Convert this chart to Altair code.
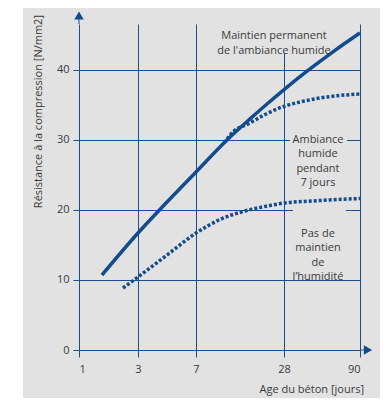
import altair as alt
import pandas as pd

# ---- data ----
age_ticks = [1, 3, 7, 28, 90]
strength_ticks = [0, 10, 20, 30, 40]

perm_days = [1.78, 3, 5.0, 7, 14.4, 19.89, 23.94, 28.8, 47.58, 68.79, 90]
perm_vals = [10.71, 16.71, 21.14, 25.43, 30.0, 33.01, 35.14, 37.31, 39.93, 42.7, 45.29]

seven_days = [13.68, 15.83, 19.89, 23.94, 28.8, 41.05, 57.37, 73.68, 90]
seven_vals = [29.57, 31.14, 32.43, 33.79, 34.86, 35.43, 36.0, 36.36, 36.57]

none_days = [2.49, 3, 5.21, 7, 12.73, 18.69, 24.66, 28, 51.7, 71.2, 90]
none_vals = [8.86, 10.43, 13.9, 16.71, 18.64, 19.86, 20.64, 21.0, 21.29, 21.5, 21.64]

labels = ["Maintien permanent\nde l'ambiance humide",
          "Ambiance\nhumide\npendant\n7 jours",
          "Pas de\nmaintien\nde\nl\u2019humidité"]
label_days = [25.6, 55.7, 55.7]
label_vals = [44.8, 30.07, 16.6]

box_x1 = [11.5, 32.9, 35.3]
box_x2 = [69.6, 79.4, 78.6]
box_y1 = [47.1, 34.3, 20.7]
box_y2 = [42.4, 26.0, 12.6]

y_title = "Résistance à la compression [N/mm2]"
x_title = "Age du béton [jours]"

BLUE = "#134c8c"
GRID = "#1d4f8e"
BG = "#e2e2e2"
TXT = "#3a3a3a"
FONT = "Open Sans"

xscale = alt.Scale(type="linear", domain=age_ticks, range=[0, 59, 117, 205, 281], nice=False, zero=False)
yscale = alt.Scale(domain=[0, 46.57], nice=False, zero=False)

xaxis = alt.Axis(values=age_ticks, title=None, grid=True, gridColor=GRID, gridWidth=1, gridOpacity=1,
                 domain=False, ticks=True, tickColor=GRID, tickSize=7, tickWidth=1,
                 labelFont=FONT, labelFontSize=11, labelColor=TXT, labelPadding=6, format="d")
yaxis = alt.Axis(values=strength_ticks, title=None, grid=True, gridColor=GRID, gridWidth=1, gridOpacity=1,
                 domain=False, ticks=True, tickColor=GRID, tickSize=6, tickWidth=1,
                 labelFont=FONT, labelFontSize=11, labelColor=TXT, labelPadding=4, format="d")


def X():
    return alt.X("age:Q", scale=xscale, axis=xaxis)


def Y():
    return alt.Y("val:Q", scale=yscale, axis=yaxis)


perm = pd.DataFrame({"age": perm_days, "val": perm_vals})
seven = pd.DataFrame({"age": seven_days, "val": seven_vals})
none_ = pd.DataFrame({"age": none_days, "val": none_vals})
lab = pd.DataFrame({"age": label_days, "val": label_vals, "txt": labels})
boxes = pd.DataFrame({"age": box_x1, "age2": box_x2, "val": box_y1, "val2": box_y2})
one = pd.DataFrame({"k": [0]})

strip = alt.Chart(one).mark_rect(color="white").encode(
    x=alt.value(-80), x2=alt.value(-56), y=alt.value(-40), y2=alt.value(420))

box_layer = alt.Chart(boxes).mark_rect(color=BG).encode(
    x=X(), x2="age2:Q", y=Y(), y2="val2:Q")

perm_line = alt.Chart(perm).mark_line(color=BLUE, strokeWidth=3.5, interpolate="monotone").encode(
    x=X(), y=Y())
seven_line = alt.Chart(seven).mark_line(color=BLUE, strokeWidth=3.5, strokeDash=[3, 2], interpolate="monotone").encode(
    x=X(), y=Y())
none_line = alt.Chart(none_).mark_line(color=BLUE, strokeWidth=3.5, strokeDash=[3, 2], interpolate="monotone").encode(
    x=X(), y=Y())

text_layer = alt.Chart(lab).mark_text(font=FONT, fontSize=11, color=TXT, lineBreak="\n", lineHeight=14.5,
                                      align="center", baseline="middle").encode(
    x=X(), y=Y(), text="txt:N")

yaxis_line = alt.Chart(one).mark_rule(color=GRID, strokeWidth=1).encode(
    x=alt.value(0), y=alt.value(-8), y2=alt.value(0))
xaxis_line = alt.Chart(one).mark_rule(color=GRID, strokeWidth=1).encode(
    x=alt.value(281), x2=alt.value(289), y=alt.value(326))
up_arrow = alt.Chart(one).mark_point(shape="triangle-up", filled=True, size=90, color=BLUE, opacity=1).encode(
    x=alt.value(0), y=alt.value(-8.5))
right_arrow = alt.Chart(one).mark_point(shape="triangle-right", filled=True, size=90, color=BLUE, opacity=1).encode(
    x=alt.value(289), y=alt.value(326))

ytitle = alt.Chart(one).mark_text(text=y_title, font=FONT, fontSize=11, color=TXT, angle=270,
                                  align="right", baseline="middle").encode(
    x=alt.value(-40), y=alt.value(-9))
xtitle = alt.Chart(one).mark_text(text=x_title, font=FONT, fontSize=11, color=TXT,
                                  align="right", baseline="middle").encode(
    x=alt.value(285), y=alt.value(366))

chart = alt.layer(
    strip, box_layer, none_line, seven_line, perm_line, text_layer,
    yaxis_line, xaxis_line, up_arrow, right_arrow, ytitle, xtitle
).properties(
    width=281, height=326,
    padding={"left": 71, "top": 16, "right": 20, "bottom": 48},
    autosize=alt.AutoSizeParams(type="none"),
    background=BG,
).configure_view(stroke=None)

chart.save("out.html", embed_options={"renderer": "svg", "actions": False})
